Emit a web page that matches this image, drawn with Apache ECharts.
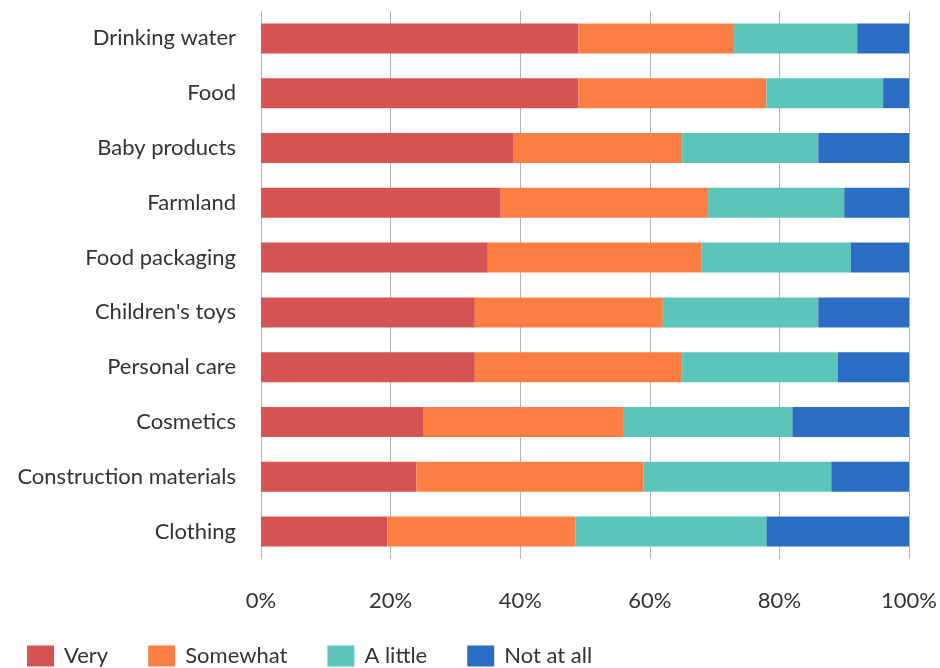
<!DOCTYPE html>
<html><head><meta charset="utf-8">
<script src="https://cdn.jsdelivr.net/npm/echarts@6/dist/echarts.min.js"></script>
<style>html,body{margin:0;padding:0;background:#fff}#c{width:940px;height:668px}</style>
</head><body><div id="c"></div>
<script>
const categories = ["Drinking water","Food","Baby products","Farmland","Food packaging","Children's toys","Personal care","Cosmetics","Construction materials","Clothing"];
const seriesNames = ["Very","Somewhat","A little","Not at all"];
const very = [49,49,39,37,35,33,33,25,24,19.5];
const somewhat = [24,29,26,32,33,29,32,31,35,29];
const aLittle = [19,18,21,21,23,24,24,26,29,29.5];
const notAtAll = [8,4,14,10,9,14,11,18,12,22];
const xTicks = [0,20,40,60,80,100];
const colors = ["#D65353","#FD7E43","#5BC5BA","#2B6CC4"];
const values = [very, somewhat, aLittle, notAtAll];

const chart = echarts.init(document.getElementById('c'));
chart.setOption({
  animation:false,
  color: colors,
  textStyle:{fontFamily:'Lato'},
  grid:{left:261,right:30,top:11,bottom:109,containLabel:false},
  legend:{left:27,top:645,padding:0,itemWidth:27,itemHeight:21,itemGap:40,icon:'rect',
    textStyle:{fontSize:22,lineHeight:22,color:'#333',fontFamily:'Lato',padding:[0,0,0,5]},
    data:seriesNames},
  xAxis:{type:'value',min:xTicks[0],max:xTicks[xTicks.length-1],interval:20,
    axisLine:{show:false},axisTick:{show:false},
    splitLine:{show:true,lineStyle:{color:'#b3b3b3',width:1}},
    axisLabel:{formatter:'{value}%',fontSize:22,color:'#333',fontFamily:'Lato',margin:31}},
  yAxis:{type:'category',inverse:true,data:categories,
    axisLine:{show:false},axisTick:{show:false},
    axisLabel:{fontSize:22,color:'#333',fontFamily:'Lato',margin:25}},
  series: seriesNames.map((n,i)=>({name:n,type:'bar',stack:'total',barWidth:30,data:values[i]}))
});
</script></body></html>
